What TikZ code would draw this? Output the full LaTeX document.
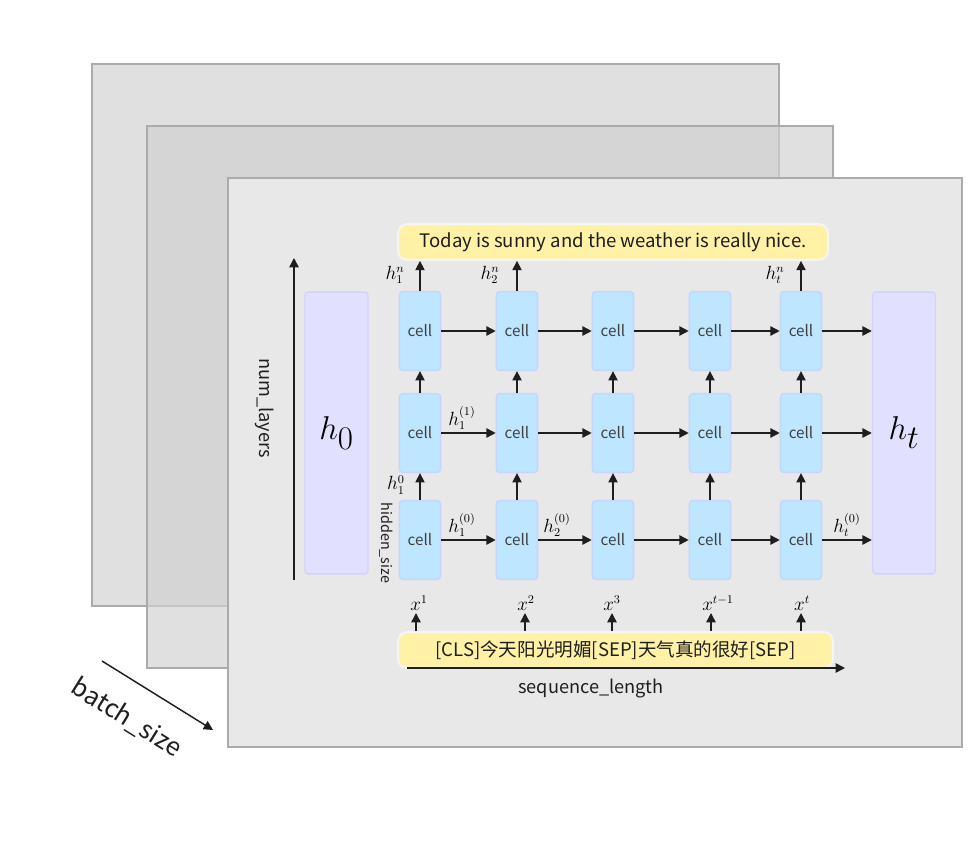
\documentclass[tikz,border=0pt]{standalone}
\usepackage{fontspec}
\setmainfont{Noto Sans CJK SC}
\usepackage{amsmath}
\usepackage{tikz}
\usetikzlibrary{arrows.meta,positioning,calc}
\definecolor{RnnSheet}{HTML}{E0E0E0}
\definecolor{RnnSheetMid}{HTML}{D1D1D1}
\definecolor{RnnSheetTop}{HTML}{E8E8E8}
\definecolor{RnnEdge}{HTML}{ABABAB}
\definecolor{RnnCell}{HTML}{BFE6FF}
\definecolor{RnnCellEdge}{HTML}{C5D5FF}
\definecolor{RnnState}{HTML}{E1E1FF}
\definecolor{RnnStateEdge}{HTML}{D2D2FF}
\definecolor{RnnText}{HTML}{FFF2A6}
\definecolor{RnnInk}{HTML}{1E1E1E}
\tikzset{
  sheet/.style={draw=RnnEdge,line width=1.1pt},
  cell/.style={draw=RnnCellEdge,fill=RnnCell,line width=1.1pt,rounded corners=2.5pt,
    minimum width=1.09cm,minimum height=2.09cm,inner sep=0pt,text=black!75,
    font=\fontsize{11.5}{13}\selectfont},
  state/.style={draw=RnnStateEdge,fill=RnnState,line width=1.1pt,rounded corners=2.5pt,
    minimum width=1.67cm,minimum height=7.47cm,inner sep=0pt,font=\fontsize{35}{40}\selectfont},
  sentence/.style={draw=white!96!black,fill=RnnText,line width=1.5pt,rounded corners=7pt,
    minimum height=0.95cm,inner sep=0pt,text=RnnInk,font=\fontsize{14}{16}\selectfont},
  lbl/.style={inner sep=0pt,font=\fontsize{13.5}{15}\selectfont},
  axis/.style={inner sep=0pt,text=RnnInk,font=\fontsize{13.7}{16}\selectfont},
  flow/.style={-{Triangle[length=7pt,width=7pt]},line width=1.1pt,draw=RnnInk}
}
\begin{document}
\begin{tikzpicture}[x=0.0265cm,y=-0.0265cm]
  \useasboundingbox (0,0) rectangle (976,847);
  % stacked batch sheets
  \draw[sheet,fill=RnnSheet] (92,64) rectangle (779,606);
  \draw[sheet,fill=RnnSheetMid,fill opacity=0.68] (147,126) rectangle (833,668);
  \draw[sheet,fill=RnnSheetTop] (228,178) rectangle (962,747);

  % initial and final states
  \node[state] (h0) at (336.5,433) {$h_0$};
  \node[state] (ht) at (904,433) {$h_t$};

  % grid of cells: rows 0,1,2 (bottom to top)
  \foreach \c/\x in {1/420,2/517,3/613,4/710,5/801}{
    \node[cell] (c0-\c) at (\x,540) {cell};
    \node[cell] (c1-\c) at (\x,433) {cell};
    \node[cell] (c2-\c) at (\x,331) {cell};
    \draw[flow] (c0-\c) -- (c1-\c);
    \draw[flow] (c1-\c) -- (c2-\c);
  }
  \foreach \r in {0,1,2}{
    \foreach \a/\b in {1/2,2/3,3/4,4/5}{
      \draw[flow] (c\r-\a) -- (c\r-\b);
    }
    \draw[flow] (c\r-5.east) -- (c\r-5.east -| ht.west);
  }

  % output and input sentences
  \node[sentence,minimum width=11.4cm] (out) at (613,242) {Today is sunny and the weather is really nice.};
  \node[sentence,minimum width=11.53cm] (seq) at (615.5,650) {[CLS]今天阳光明媚[SEP]天气真的很好[SEP]};
  \draw[flow] (c2-1.north) -- (c2-1.north |- out.south);
  \draw[flow] (c2-2.north) -- (c2-2.north |- out.south);
  \draw[flow] (c2-5.north) -- (c2-5.north |- out.south);
  \foreach \i/\x in {1/416,2/525,3/612,4/711,5/801}{
    \coordinate (x\i) at (\x,613);
    \draw[flow] (x\i |- seq.north) -- (x\i);
  }

  % state labels
  \node[lbl] at (395,275) {$h_1^n$};
  \node[lbl] at (490,275) {$h_2^n$};
  \node[lbl] at (775,275) {$h_t^n$};
  \node[lbl] at (462,418) {$h_1^{(1)}$};
  \node[lbl] at (396,485) {$h_1^0$};
  \node[lbl] at (462,525) {$h_1^{(0)}$};
  \node[lbl] at (557,525) {$h_2^{(0)}$};
  \node[lbl] at (847,525) {$h_t^{(0)}$};
  \node[lbl] at (419,603) {$x^1$};
  \node[lbl] at (526,603) {$x^2$};
  \node[lbl] at (612,603) {$x^3$};
  \node[lbl] at (718,603) {$x^{t-1}$};
  \node[lbl] at (802,603) {$x^t$};

  % axes
  \coordinate (nlo) at (294,580); \coordinate (nhi) at (294,258);
  \draw[flow] (nlo) -- (nhi);
  \node[axis,rotate=-90] (nl) at (265,408) {num\_layers};
  \node[axis,rotate=-90,font=\fontsize{10.8}{12}\selectfont] (hs) at (386,543) {hidden\_size};
  \coordinate (slo) at (407,668); \coordinate (shi) at (845,668);
  \draw[flow] (slo) -- (shi);
  \node[axis] (sl) at (591,689) {sequence\_length};
  \coordinate (blo) at (102,661); \coordinate (bhi) at (213,730);
  \draw[flow] (blo) -- (bhi);
  \node[axis,rotate=-32,font=\fontsize{19}{22}\selectfont] (bs) at (127,718) {batch\_size};
\end{tikzpicture}
\end{document}
